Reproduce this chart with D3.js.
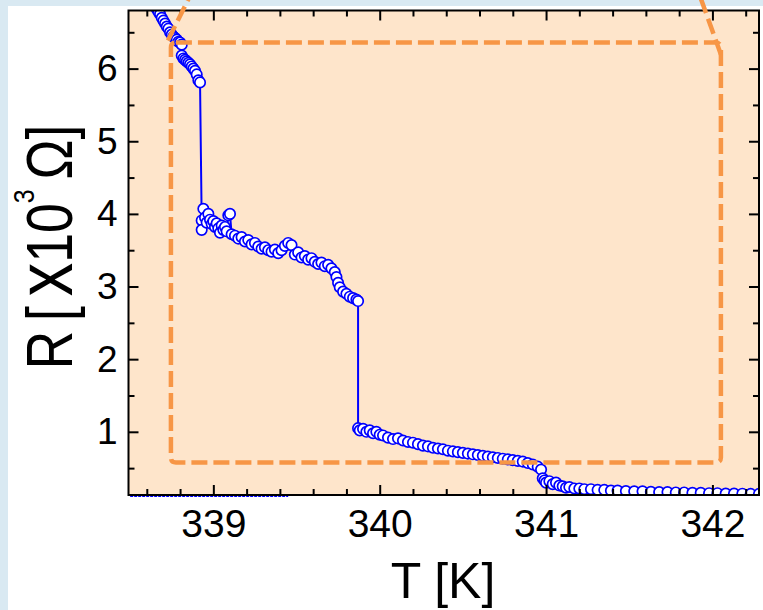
<!DOCTYPE html>
<html><head><meta charset="utf-8">
<script src="https://cdn.jsdelivr.net/npm/d3@7"></script>
<style>html,body{margin:0;padding:0;background:#fff;} svg{display:block;}</style>
</head><body>
<svg id="c" width="763" height="610"></svg>
<script>
// ---- data (T in K, R in 10^3 ohm) ----
const T1=[338.66,338.67,338.68,338.69,338.70,338.71,338.72,338.73,338.74,338.75,338.76,338.77,338.78,338.79,338.80,338.81,338.81,338.82,338.83,338.84,338.85,338.86,338.87,338.88,338.89,338.90,338.91,338.92];
const R1=[6.82,6.78,6.75,6.70,6.66,6.62,6.58,6.55,6.50,6.47,6.44,6.42,6.40,6.37,6.36,6.33,6.18,6.14,6.12,6.10,6.08,6.06,6.03,6.00,5.97,5.92,5.84,5.81];
const T2=[338.93,338.93,338.94,338.95,338.96,338.97,338.98,338.99,339.00,339.01,339.02,339.03,339.04,339.05,339.06,339.07,339.08,339.09,339.10,339.11,339.13,339.15,339.17,339.19,339.21,339.23,339.25,339.27,339.29,339.31,339.33,339.35,339.37,339.39,339.41,339.43,339.45,339.47,339.49,339.51,339.53,339.55,339.57,339.59,339.61,339.63,339.65,339.67,339.69,339.71,339.73,339.74,339.75,339.76,339.78,339.80,339.82,339.84,339.86,339.87];
const R2=[3.91,3.78,4.07,3.95,3.88,4.00,3.92,3.86,3.90,3.82,3.87,3.80,3.74,3.84,3.78,3.82,3.76,3.98,4.00,3.72,3.70,3.66,3.68,3.62,3.64,3.58,3.60,3.55,3.52,3.54,3.50,3.48,3.51,3.46,3.50,3.56,3.60,3.57,3.44,3.47,3.40,3.42,3.37,3.39,3.34,3.31,3.33,3.28,3.30,3.25,3.20,3.13,3.05,2.99,2.93,2.90,2.86,2.84,2.82,2.80];
const T3=[339.87,339.88,339.90,339.92,339.94,339.96,339.98,340.00,340.02,340.05,340.08,340.11,340.14,340.17,340.20,340.23,340.26,340.29,340.32,340.35,340.38,340.41,340.44,340.47,340.50,340.53,340.56,340.59,340.62,340.65,340.68,340.71,340.74,340.77,340.80,340.83,340.86,340.89,340.92,340.95,340.97];
const R3=[1.05,1.02,1.04,1.00,1.02,0.98,1.00,0.96,0.95,0.92,0.90,0.91,0.88,0.86,0.85,0.83,0.81,0.80,0.78,0.77,0.76,0.74,0.73,0.72,0.71,0.70,0.69,0.68,0.67,0.66,0.65,0.64,0.63,0.62,0.61,0.60,0.59,0.57,0.55,0.52,0.48];
const T4=[340.98,340.99,341.00,341.02,341.04,341.06,341.08,341.10,341.12,341.14,341.17,341.20,341.23,341.27,341.31,341.35,341.39,341.43,341.48,341.53,341.58,341.63,341.68,341.73,341.78,341.83,341.88,341.93,341.98,342.03,342.08,342.13,342.18,342.23,342.28];
const R4=[0.36,0.33,0.30,0.32,0.28,0.30,0.26,0.25,0.23,0.24,0.22,0.22,0.21,0.21,0.20,0.20,0.19,0.19,0.185,0.18,0.18,0.175,0.17,0.17,0.165,0.165,0.16,0.16,0.155,0.155,0.15,0.15,0.148,0.145,0.145];
// low branch running along the bottom axis
const TL=[338.50,338.60,338.70,338.80,338.90,339.00,339.10,339.20,339.30,339.40,339.45];
const RL=[0.115,0.115,0.115,0.115,0.115,0.115,0.115,0.115,0.115,0.115,0.115];

const xTicks=[339,340,341,342];
const xMinor=[338.6,338.8,339.2,339.4,339.6,339.8,340.2,340.4,340.6,340.8,341.2,341.4,341.6,341.8,342.2];
const yTicks=[1,2,3,4,5,6];
const yMinor=[0.5,1.5,2.5,3.5,4.5,5.5,6.5];
// dashed zoom box (data units)
const boxT=[338.745,342.051];
const boxR=[0.577,6.36];

const W=763,H=610;
const L=128.5,Rt=759,Tp=10.5,B=495;
const svg=d3.select('#c');
const x=d3.scaleLinear().domain([338.49,342.28]).range([L,Rt]);
const y=d3.scaleLinear().domain([0.13,6.8]).range([B,Tp]);

svg.append('rect').attr('width',W).attr('height',H).attr('fill','#fff');
svg.append('rect').attr('x',0).attr('y',0).attr('width',8).attr('height',H).attr('fill','#d9e9f2');
svg.append('rect').attr('x',0).attr('y',0).attr('width',W).attr('height',6).attr('fill','#d9e9f2');
svg.append('rect').attr('x',L).attr('y',Tp).attr('width',Rt-L).attr('height',B-Tp).attr('fill','#fee5cb');

svg.append('defs').append('clipPath').attr('id','clip')
  .append('rect').attr('x',L).attr('y',Tp).attr('width',Rt-L).attr('height',B-Tp);

const main=[];
[[T1,R1],[T2,R2],[T3,R3],[T4,R4]].forEach(([ts,rs])=>ts.forEach((t,i)=>main.push({t,r:rs[i]})));
const low=TL.map((t,i)=>({t,r:RL[i]}));

const line=d3.line().x(d=>x(d.t)).y(d=>y(d.r));
const g=svg.append('g').attr('clip-path','url(#clip)');
g.append('path').datum(main).attr('d',line).attr('fill','none').attr('stroke','#0000ff').attr('stroke-width',2);
g.selectAll('circle.m').data(main).join('circle').attr('class','m')
  .attr('cx',d=>x(d.t)).attr('cy',d=>y(d.r)).attr('r',5.2)
  .attr('fill','#fff').attr('stroke','#0000ff').attr('stroke-width',1.7);

svg.append('path').datum(low).attr('d',line).attr('fill','none')
  .attr('stroke','#0000ff').attr('stroke-width',2).attr('stroke-dasharray','3,1');

// axes
function styleAxis(sel){
  sel.select('.domain').remove();
  sel.selectAll('line').attr('stroke','#000').attr('stroke-width',2);
  sel.selectAll('text').attr('fill','#000').style('font-family','"Liberation Sans",Arial,sans-serif');
}
const fmt=d3.format('d');
svg.append('g').attr('transform',`translate(0,${B})`)
  .call(d3.axisBottom(x).tickValues(xTicks).tickSize(-10).tickSizeOuter(0).tickPadding(14).tickFormat(fmt))
  .call(styleAxis).selectAll('text').style('font-size','39px');
svg.append('g').attr('transform',`translate(0,${B})`)
  .call(d3.axisBottom(x).tickValues(xMinor).tickSize(-6).tickSizeOuter(0).tickFormat(''))
  .call(styleAxis);
svg.append('g').attr('transform',`translate(0,${Tp})`)
  .call(d3.axisTop(x).tickValues(xTicks).tickSize(-10).tickSizeOuter(0).tickFormat(''))
  .call(styleAxis);
svg.append('g').attr('transform',`translate(0,${Tp})`)
  .call(d3.axisTop(x).tickValues(xMinor).tickSize(-6).tickSizeOuter(0).tickFormat(''))
  .call(styleAxis);
svg.append('g').attr('transform',`translate(${L},0)`)
  .call(d3.axisLeft(y).tickValues(yTicks).tickSize(-10).tickSizeOuter(0).tickPadding(11).tickFormat(fmt))
  .call(styleAxis).selectAll('text').style('font-size','37px');
svg.append('g').attr('transform',`translate(${L},0)`)
  .call(d3.axisLeft(y).tickValues(yMinor).tickSize(-6).tickSizeOuter(0).tickFormat(''))
  .call(styleAxis);
svg.append('g').attr('transform',`translate(${Rt},0)`)
  .call(d3.axisRight(y).tickValues(yTicks).tickSize(-10).tickSizeOuter(0).tickFormat(''))
  .call(styleAxis);
svg.append('g').attr('transform',`translate(${Rt},0)`)
  .call(d3.axisRight(y).tickValues(yMinor).tickSize(-6).tickSizeOuter(0).tickFormat(''))
  .call(styleAxis);

svg.append('rect').attr('x',L).attr('y',Tp).attr('width',Rt-L).attr('height',B-Tp)
  .attr('fill','none').attr('stroke','#000').attr('stroke-width',2);

// titles
svg.append('text').attr('x',443).attr('y',598).attr('text-anchor','middle')
  .style('font-family','"Liberation Sans",Arial,sans-serif').style('font-size','50px').attr('fill','#000')
  .text('T [K]');

const yl=svg.append('text').attr('text-anchor','middle')
  .style('font-family','"Liberation Sans",Arial,sans-serif').style('font-size','64px').attr('fill','#000')
  .style('word-spacing','-6px');
yl.append('tspan').text('R [ ');
yl.append('tspan').style('font-size','80px').text('x');
yl.append('tspan').text('10');
yl.append('tspan').attr('dy',-38).style('font-size','30px').text('3');
yl.append('tspan').attr('dy',38).text(' Ω]');
const wy=yl.node().getComputedTextLength();
const sx=245/wy;
yl.attr('transform',`translate(72,247) rotate(-90) scale(${sx},1)`);

// orange dashed zoom box
const ox0=x(boxT[0]),ox1=x(boxT[1]),oy1=y(boxR[1]),oy0=y(boxR[0]),rr=5;
const og=svg.append('g').attr('fill','none').attr('stroke','#f79646').attr('stroke-width',4.5)
  .attr('stroke-dasharray','16,6');
og.append('path').attr('d',
  `M${ox0+rr},${oy1} H${ox1-rr} Q${ox1},${oy1} ${ox1},${oy1+rr+2} V${oy0-rr} Q${ox1},${oy0} ${ox1-rr},${oy0} H${ox0+rr} Q${ox0},${oy0} ${ox0},${oy0-rr} V${oy1+rr} Q${ox0},${oy1} ${ox0+rr},${oy1}`);
og.append('path').attr('d',`M${ox0-3},${oy1-2} L${ox0+19},-4`);
og.append('path').attr('d',`M${ox1},${oy1+12} L${ox1-21},-4`);
</script>
</body></html>
